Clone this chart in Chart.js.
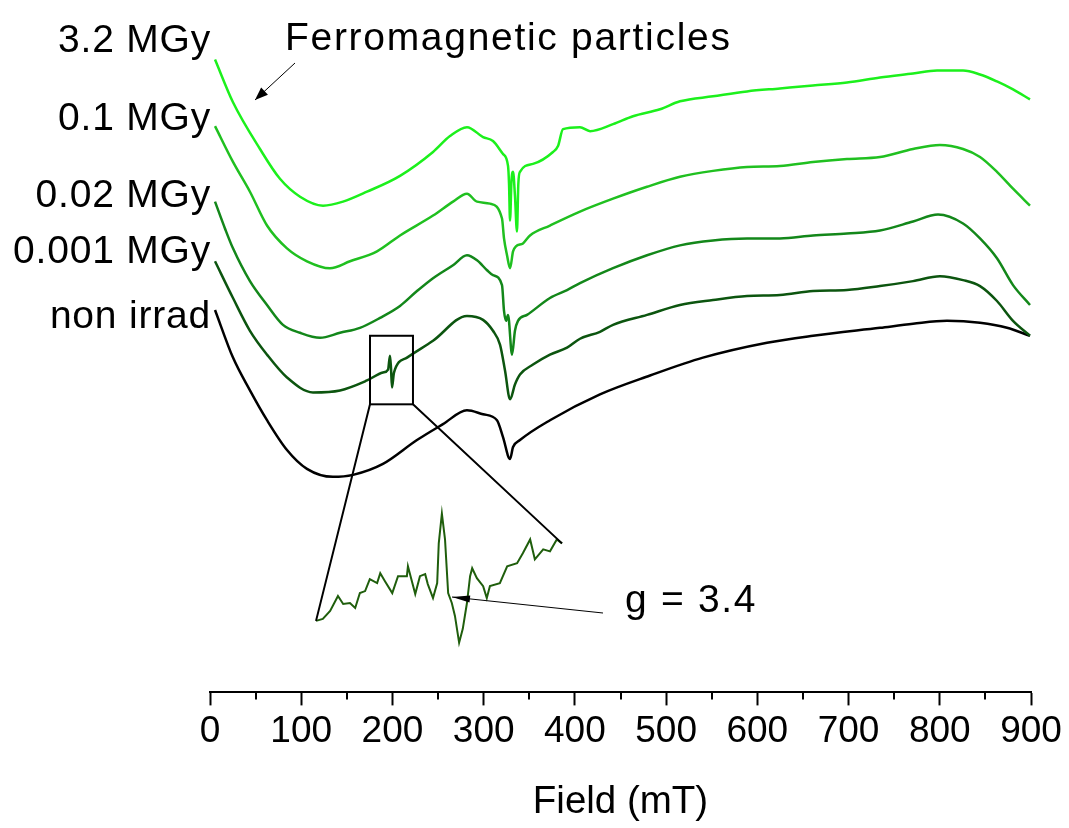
<!DOCTYPE html>
<html>
<head>
<meta charset="utf-8">
<script src="https://cdn.jsdelivr.net/npm/chart.js@4.4.1/dist/chart.umd.min.js"></script>
<style>
  html, body { margin: 0; padding: 0; background: #fff; }
  canvas { display: block; }
</style>
</head>
<body>
<canvas id="epr" width="1069" height="828"></canvas>
<script>
// === DATA (field in mT, signal in a.u., spectra stacked with offsets) ===
const doses = ['3.2 MGy', '0.1 MGy', '0.02 MGy', '0.001 MGy', 'non irrad'];
const xTicks = [0, 100, 200, 300, 400, 500, 600, 700, 800, 900];

const field32 = [5.5, 25.2, 54.8, 76.7, 98.7, 123.9, 145.8, 172.1, 208.3, 244.5, 263.1, 281.7, 299.3, 310.2, 321.2, 326.7, 327.8, 328.9, 330.5, 332.2, 334.3, 336.5, 338.0, 339.8, 354.1, 376.0, 381.5, 387.0, 405.6, 416.6, 441.8, 463.7, 493.3, 515.2, 551.4, 588.7, 624.8, 661.0, 698.3, 734.5, 770.7, 797.0, 825.5, 844.1, 862.7, 880.3, 898.9];
const signal32 = [637, 594, 547, 517, 499, 490, 494, 504, 520, 544, 560, 569, 559, 555, 542, 530, 512, 475, 515, 524, 500, 464, 512, 524, 532, 544, 550, 567, 569, 565, 572, 580, 587, 595, 600, 605, 608, 611, 614, 619, 623, 626, 626, 622, 615, 607, 597];

const field01 = [5.5, 25.2, 43.8, 62.5, 84.4, 106.3, 131.5, 153.5, 183.1, 208.3, 244.5, 266.4, 281.7, 292.7, 306.9, 320.1, 322.3, 325.6, 328.9, 332.2, 335.4, 343.1, 350.8, 372.7, 405.6, 441.8, 479.1, 515.2, 551.4, 588.7, 624.8, 661.0, 698.3, 734.5, 770.7, 800.2, 825.5, 844.1, 862.7, 880.3, 898.9];
const signal01 = [570, 534, 504, 470, 447, 434, 427, 434, 444, 460, 480, 494, 502, 494, 492, 477, 457, 440, 427, 444, 449, 452, 460, 470, 484, 497, 509, 519, 525, 529, 530, 534, 537, 539, 547, 551, 547, 539, 524, 507, 490];

const field002 = [5.5, 16.4, 25.2, 43.8, 62.5, 80.0, 98.7, 120.6, 142.5, 164.4, 186.4, 208.3, 226.9, 244.5, 266.4, 281.7, 292.7, 303.7, 310.2, 320.1, 322.3, 324.5, 326.7, 331.1, 334.3, 337.6, 347.5, 372.7, 391.4, 405.6, 441.8, 479.1, 515.2, 551.4, 588.7, 624.8, 661.0, 698.3, 734.5, 770.7, 798.1, 825.5, 844.1, 862.7, 880.3, 898.9];
const signal002 = [494, 467, 447, 414, 390, 370, 362, 357, 362, 367, 377, 389, 404, 417, 430, 440, 435, 425, 420, 410, 384, 374, 380, 340, 364, 374, 380, 397, 405, 412, 427, 440, 450, 455, 457, 457, 460, 462, 465, 474, 481, 472, 457, 437, 410, 390];

const field0001 = [5.5, 25.2, 43.8, 62.5, 84.4, 112.9, 142.5, 172.1, 189.6, 195.2, 197.3, 198.4, 199.5, 201.7, 216.0, 244.5, 281.7, 299.3, 310.2, 317.9, 323.4, 328.9, 334.3, 339.8, 354.1, 372.7, 391.4, 405.6, 427.5, 441.8, 479.1, 515.2, 551.4, 588.7, 624.8, 661.0, 698.3, 734.5, 770.7, 800.2, 825.5, 844.1, 862.7, 880.3, 898.9];
const signal0001 = [434, 397, 364, 340, 317, 302, 304, 314, 322, 325, 339, 327, 307, 322, 337, 354, 379, 375, 364, 350, 324, 295, 310, 320, 330, 340, 347, 356, 363, 370, 380, 390, 395, 399, 400, 404, 405, 409, 414, 419, 415, 409, 394, 374, 359];

const fieldNon = [5.5, 25.2, 43.8, 62.5, 84.4, 106.3, 134.8, 156.8, 189.6, 226.9, 255.4, 281.7, 299.3, 314.6, 321.2, 328.9, 332.2, 339.8, 372.7, 427.5, 482.4, 540.4, 610.6, 661.0, 734.5, 770.7, 807.9, 844.1, 873.7, 898.9];
const signalNon = [385, 337, 304, 274, 244, 225, 217, 219, 230, 254, 270, 284, 280, 274, 257, 235, 247, 254, 274, 300, 319, 337, 352, 359, 367, 371, 374, 372, 367, 359];

// magnified view of the 0.001 MGy spectrum around g = 3.4
const fieldInset = [175.4, 176.7, 178.1, 179.6, 180.6, 181.9, 182.9, 183.8, 184.8, 185.7, 187.1, 187.7, 188.6, 190.0, 191.1, 192.8, 193.0, 194.4, 195.3, 196.3, 196.8, 197.8, 198.6, 198.9, 199.5, 200.1, 200.7, 201.4, 202.0, 202.8, 203.5, 204.3, 204.9, 205.3, 206.2, 207.4, 208.1, 208.7, 210.6, 212.0, 213.9, 215.0, 216.4, 217.3, 218.9, 220.2, 221.5, 222.5];
const signalInset = [72, 74, 82, 97, 89, 90, 85, 100, 102, 114, 110, 120, 112, 100, 117, 117, 127, 99, 117, 119, 109, 95, 110, 150, 180, 154, 100, 90, 77, 50, 64, 90, 117, 125, 115, 107, 95, 107, 110, 127, 130, 140, 154, 134, 144, 142, 154, 150];

const zoomField = [175.4, 222.5];   // field window shown in the inset
const zoomSignal = [290, 359];

const colors = ['#1cf01c', '#20c020', '#13871a', '#0c550f', '#000000'];

const pts = (xs, ys) => xs.map((v, i) => ({ x: v, y: ys[i] }));

// === ANNOTATIONS ===
const arrow = (ctx, x1, y1, x2, y2, len, half) => {
  ctx.beginPath(); ctx.moveTo(x1, y1); ctx.lineTo(x2, y2); ctx.stroke();
  const a = Math.atan2(y2 - y1, x2 - x1);
  ctx.beginPath();
  ctx.moveTo(x2, y2);
  ctx.lineTo(x2 - len * Math.cos(a) + half * Math.sin(a), y2 - len * Math.sin(a) - half * Math.cos(a));
  ctx.lineTo(x2 - len * Math.cos(a) - half * Math.sin(a), y2 - len * Math.sin(a) + half * Math.cos(a));
  ctx.closePath(); ctx.fill();
};

const annotate = {
  id: 'annotate',
  afterDraw(chart) {
    const { ctx, chartArea, scales: { x, y, xInset } } = chart;
    ctx.save();
    ctx.strokeStyle = '#000'; ctx.fillStyle = '#000';

    // minor ticks
    ctx.lineWidth = 2;
    for (let v = 50; v < 900; v += 100) {
      const px = Math.round(x.getPixelForValue(v));
      ctx.beginPath(); ctx.moveTo(px, chartArea.bottom); ctx.lineTo(px, chartArea.bottom + 7); ctx.stroke();
    }

    // zoom box and connectors
    const bx0 = x.getPixelForValue(zoomField[0]), bx1 = x.getPixelForValue(zoomField[1]);
    const by0 = y.getPixelForValue(zoomSignal[1]), by1 = y.getPixelForValue(zoomSignal[0]);
    ctx.lineWidth = 2;
    ctx.strokeRect(bx0, by0, bx1 - bx0, by1 - by0);
    ctx.beginPath();
    ctx.moveTo(bx0, by1);
    ctx.lineTo(xInset.getPixelForValue(fieldInset[0]), y.getPixelForValue(signalInset[0]));
    ctx.moveTo(bx1, by1);
    ctx.lineTo(xInset.getPixelForValue(fieldInset[fieldInset.length - 1]), y.getPixelForValue(signalInset[signalInset.length - 1]));
    ctx.stroke();

    // text
    ctx.font = "39px 'Liberation Sans', Arial, sans-serif";
    ctx.textBaseline = 'alphabetic';
    ctx.textAlign = 'right';
    ctx.letterSpacing = '0.8px';
    const baselines = [52, 130, 207, 263, 328];
    doses.forEach((d, i) => ctx.fillText(d, chartArea.left + 1, baselines[i]));
    ctx.textAlign = 'left';
    ctx.letterSpacing = '1.7px';
    ctx.fillText('Ferromagnetic particles', 285, 50);
    ctx.fillText('g = 3.4', 625, 612);
    ctx.letterSpacing = '0px';

    ctx.lineWidth = 1;
    arrow(ctx, 295, 63, 255, 100, 13, 5);
    arrow(ctx, 603, 613, 452, 597, 18, 3.5);
    ctx.restore();
  }
};

// === CHART ===
Chart.defaults.font.family = "'Liberation Sans', Arial, sans-serif";
Chart.defaults.color = '#000';

const series = [[field32, signal32], [field01, signal01], [field002, signal002], [field0001, signal0001], [fieldNon, signalNon]];
const datasets = series.map((s, i) => ({
  label: doses[i],
  data: pts(s[0], s[1]),
  borderColor: colors[i],
  borderWidth: 2.5,
  pointRadius: 0,
  cubicInterpolationMode: 'monotone',
  xAxisID: 'x', yAxisID: 'y'
}));
datasets.push({
  label: 'g = 3.4 (zoom)',
  data: pts(fieldInset, signalInset),
  borderColor: '#1f5e0c',
  borderWidth: 2,
  pointRadius: 0,
  xAxisID: 'xInset', yAxisID: 'y'
});

new Chart(document.getElementById('epr'), {
  type: 'line',
  data: { datasets },
  options: {
    responsive: false,
    animation: false,
    events: [],
    layout: { padding: { left: 210, right: 38, top: 0, bottom: 0 } },
    plugins: { legend: { display: false }, tooltip: { enabled: false } },
    scales: {
      x: {
        type: 'linear', position: 'bottom', min: 0, max: 900,
        afterBuildTicks: s => { s.ticks = xTicks.map(v => ({ value: v })); },
        ticks: { font: { size: 37 }, color: '#000', padding: 4, maxRotation: 0, autoSkip: false },
        grid: { drawOnChartArea: false, tickLength: 13, tickWidth: 2, tickColor: '#000' },
        border: { display: true, color: '#000', width: 2 },
        title: { display: true, text: 'Field (mT)', font: { size: 38.5 }, color: '#000', padding: { top: 21, bottom: 3 } }
      },
      xInset: { type: 'linear', display: false, min: 155.1, max: 312.3 },
      y: { type: 'linear', display: false, min: 0, max: 697 }
    }
  },
  plugins: [annotate]
});
</script>
</body>
</html>
